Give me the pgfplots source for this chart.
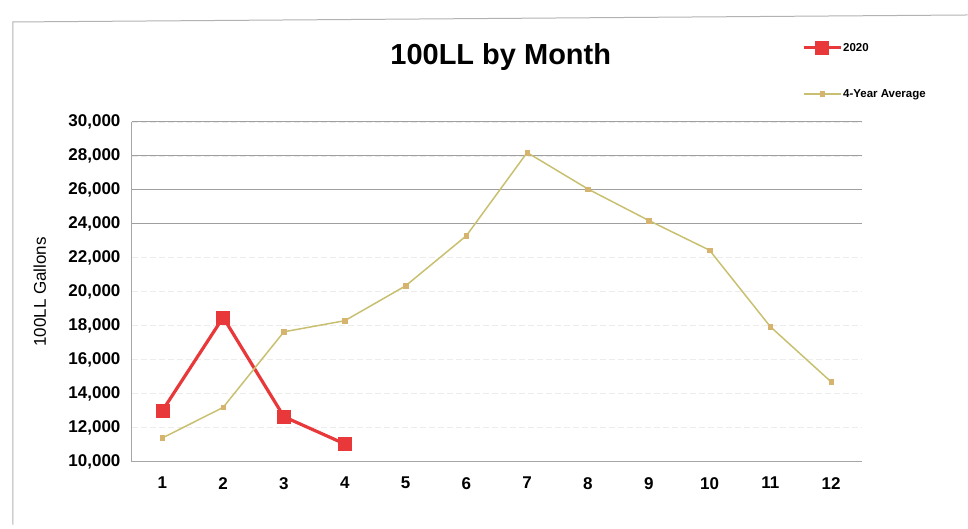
\documentclass[border=0pt]{standalone}
\usepackage{pgfplots}
\pgfplotsset{compat=1.18}
\usepackage{fontspec}
\setmainfont{Liberation Sans}
\definecolor{redln}{RGB}{232,56,58}
\definecolor{avgln}{RGB}{200,192,112}
\definecolor{avgmk}{RGB}{214,180,110}
\begin{document}
\begin{tikzpicture}[x=1pt,y=1pt]
\path (0,0) rectangle (968,529);
\draw[gray!60, line width=1pt] (13,4) -- (13,507) -- (968,514);
\node[font=\bfseries\fontsize{29}{33}\selectfont] at (501,472) {100LL by Month};
\begin{axis}[
  at={(132pt,67pt)}, anchor=south west,
  scale only axis, width=730pt, height=340pt,
  xmin=0.5, xmax=12.5, ymin=10000, ymax=30000,
  xtick={1,...,12},
  ytick={10000,12000,...,30000},
  scaled ticks=false,
  axis x line*=bottom, axis y line*=left,
  axis line style={gray!70, line width=1pt, -},
  major tick length=0pt,
  ymajorgrids,
  major grid style={gray!15, line width=0.8pt, dash pattern=on 6pt off 3pt},
  extra y ticks={24000,26000,28000,30000},
  extra y tick labels={},
  extra y tick style={grid=major, major grid style={gray!75, line width=1pt, solid}},
  /pgf/number format/assume math mode=true,
  /pgf/number format/.cd, fixed, precision=0, 1000 sep={,},
  /pgfplots/.cd,
  ticklabel style={font=\bfseries\fontsize{17}{20}\selectfont, text=black},
  yticklabel style={xshift=-8pt},
  xticklabel style={yshift=-12pt},
  ylabel={100LL Gallons},
  ylabel style={font=\fontsize{17}{20}\selectfont, at={(-0.113,0.5)}},
  legend style={draw=none, fill=none, at={(0.918,1.238)}, anchor=north west,
    font=\bfseries\fontsize{11.5}{13}\selectfont, row sep=34pt, inner sep=0pt,
    nodes={inner sep=1pt}},
  legend cell align=left,
  legend image code/.code={
    \draw[mark repeat=2,mark phase=2,#1] plot coordinates {(0pt,0pt)(18.5pt,0pt)(37pt,0pt)};
  },
]
\addplot[redln, line width=3.2pt, mark=square*, mark size=6.5pt,
  mark options={fill=redln, draw=redln, line width=0.5pt}]
  coordinates {(1,13000)(2,18500)(3,12650)(4,11050)};
\addlegendentry{2020}
\addplot[avgln, line width=1.5pt, mark=square*, mark size=2.3pt,
  mark options={fill=avgmk, draw=avgmk, line width=0.4pt}]
  coordinates {(1,11400)(2,13200)(3,17650)(4,18300)(5,20350)(6,23300)
               (7,28200)(8,26050)(9,24200)(10,22450)(11,17950)(12,14700)};
\addlegendentry{4-Year Average}
\end{axis}
\end{tikzpicture}
\end{document}
